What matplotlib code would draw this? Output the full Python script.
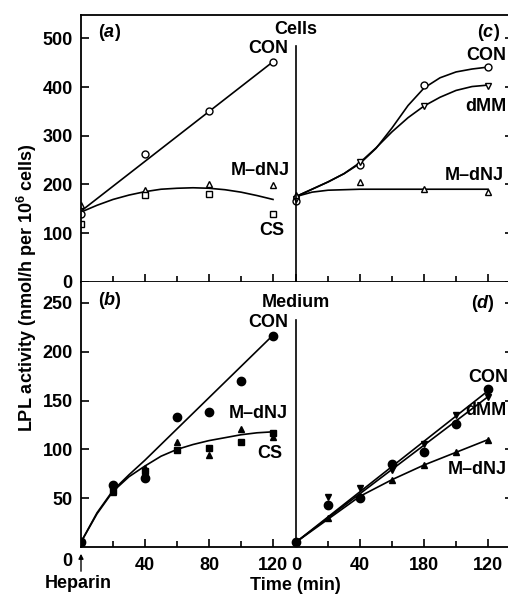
import numpy as np
import matplotlib.pyplot as plt

plt.rcParams['font.family'] = ['Liberation Sans', 'DejaVu Sans']
plt.rcParams['font.weight'] = 'bold'
plt.rcParams['mathtext.fontset'] = 'custom'
plt.rcParams['mathtext.rm'] = 'Liberation Sans:bold'
plt.rcParams['mathtext.it'] = 'Liberation Sans:italic:bold'

# offset of the right-hand panels on the shared time axis
R = 134.4

# ---- cells, panel (a) ----
t_a = [0, 40, 80, 120]
con_a = [140, 262, 350, 452]
mdnj_a = [157, 189, 201, 198]
cs_a = [119, 178, 180, 139]
fit_con_a_t = [0, 120]
fit_con_a = [145, 452]
fit_t10 = [0, 10, 20, 30, 40, 50, 60, 70, 80, 90, 100, 110, 120]
fit_mdnj_a = [143, 157, 169, 178, 185, 190, 192, 193, 192, 189, 184, 177, 169]

# ---- cells, panel (c) ----
t_c = [0, 40, 80, 120]
con_c = [165, 239, 404, 441]
dmm_c = [170, 246, 361, 402]
mdnj_c = [178, 205, 190, 184]
fit_con_c = [175, 190, 205, 222, 243, 274, 316, 362, 398, 419, 431, 437, 441]
fit_dmm_c = [175, 190, 205, 222, 245, 275, 308, 337, 361, 379, 393, 401, 404]
fit_mdnj_c = [175, 184, 188, 189, 190, 190, 190, 190, 190, 190, 190, 190, 190]

# ---- medium, panel (b) ----
t_b = [0, 20, 40, 60, 80, 100, 120]
con_b = [5, 64, 71, 133, 138, 170, 216]
mdnj_b = [5, 56, 81, 108, 94, 121, 113]
cs_b = [5, 57, 78, 99, 101, 108, 117]
fit_con_b_t = [0, 10, 20, 30, 40, 60, 80, 100, 120]
fit_con_b = [5, 35, 58, 74, 89, 121, 153, 185, 217]
fit_mdnj_b = [5, 34, 57, 72, 83, 93, 100, 105, 109, 112, 115, 117, 118]

# ---- medium, panel (d) ----
t_d = [0, 20, 40, 60, 80, 100, 120]
con_d = [5, 43, 50, 85, 97, 126, 162]
dmm_d = [5, 51, 60, 79, 106, 135, 154]
mdnj_d = [5, 30, 52, 69, 84, 97, 110]
fit_lin_t = [0, 120]
fit_con_d = [5, 160]
fit_dmm_d = [5, 154]
fit_mdnj_d_t = [0, 40, 60, 80, 100, 120]
fit_mdnj_d = [5, 52, 69, 84, 97, 110]

xlabels = ['40', '80', '120', '0', '40', '180', '120']

fig = plt.figure(figsize=(5.08, 5.96), dpi=100)
W, H = 508.0, 596.0
ax1 = fig.add_axes([81 / W, 1 - 281.7 / H, 432 / W, 266.7 / H])
ax2 = fig.add_axes([81 / W, 1 - 547 / H, 432 / W, 265.3 / H])

XMAX = 432 / 1.6
ax1.set_xlim(0, XMAX)
ax2.set_xlim(0, XMAX)
ax1.set_ylim(0, 548)
ax2.set_ylim(0, 271.8)

lw = 1.2
ms = 5
tr = lambda v: [x + R for x in v]

# panel (a)
ax1.plot(fit_con_a_t, fit_con_a, 'k-', lw=lw)
ax1.plot(fit_t10, fit_mdnj_a, 'k-', lw=lw)
ax1.plot(t_a, con_a, 'o', mfc='white', mec='k', mew=1.0, ms=ms, ls='none')
ax1.plot(t_a, mdnj_a, '^', mfc='white', mec='k', mew=1.0, ms=ms, ls='none')
ax1.plot(t_a, cs_a, 's', mfc='white', mec='k', mew=1.0, ms=ms - 0.5, ls='none')

# panel (c)
ax1.plot(tr(fit_t10), fit_con_c, 'k-', lw=lw)
ax1.plot(tr(fit_t10), fit_dmm_c, 'k-', lw=lw)
ax1.plot(tr(fit_t10), fit_mdnj_c, 'k-', lw=lw)
ax1.plot(tr(t_c), con_c, 'o', mfc='white', mec='k', mew=1.0, ms=ms, ls='none')
ax1.plot(tr(t_c), dmm_c, 'v', mfc='white', mec='k', mew=1.0, ms=ms, ls='none')
ax1.plot(tr(t_c), mdnj_c, '^', mfc='white', mec='k', mew=1.0, ms=ms, ls='none')

# panel (b)
ax2.plot(fit_con_b_t, fit_con_b, 'k-', lw=lw)
ax2.plot(fit_t10, fit_mdnj_b, 'k-', lw=lw)
ax2.plot(t_b, con_b, 'o', color='k', ms=ms + 1, ls='none')
ax2.plot(t_b, mdnj_b, '^', color='k', ms=ms, ls='none')
ax2.plot(t_b, cs_b, 's', color='k', ms=ms - 0.5, ls='none')

# panel (d)
ax2.plot(tr(fit_lin_t), fit_con_d, 'k-', lw=lw)
ax2.plot(tr(fit_lin_t), fit_dmm_d, 'k-', lw=lw)
ax2.plot(tr(fit_mdnj_d_t), fit_mdnj_d, 'k-', lw=lw)
ax2.plot(tr(t_d), con_d, 'o', color='k', ms=ms + 1, ls='none')
ax2.plot(tr(t_d), dmm_d, 'v', color='k', ms=ms, ls='none')
ax2.plot(tr(t_d), mdnj_d, '^', color='k', ms=ms, ls='none')

# dividers between left and right panels
ax1.plot([R, R], [0, 484], 'k-', lw=1.2)
ax2.plot([R, R], [0, 232.6], 'k-', lw=1.2)

fs = 13
for ax in (ax1, ax2):
    for s in ax.spines.values():
        s.set_linewidth(1.3)
    ax.set_xticks([40, 80, 120, R, R + 40, R + 80, R + 120])
    ax.set_xticks([20, 60, 100, R + 20, R + 60, R + 100], minor=True)
    ax.tick_params(axis='x', which='major', direction='in', length=6, width=1.2, pad=7, labelsize=fs)
    ax.tick_params(axis='x', which='minor', direction='in', length=4, width=1.2)
    ax.tick_params(axis='y', direction='in', length=6, width=1.2, pad=6, labelsize=fs,
                   right=True)
ax2.spines['top'].set_visible(False)
ax1.set_xticklabels([])
ax2.set_xticklabels(xlabels)
ax1.set_yticks([0, 100, 200, 300, 400, 500])
ax2.set_yticks([50, 100, 150, 200, 250])

# labels
ax1.text(18, 513, '($a$)', fontsize=fs, ha='center', va='center')
ax1.text(117, 480, 'CON', fontsize=fs, ha='center', va='center')
ax1.text(112, 229, 'M\u2013dNJ', fontsize=fs, ha='center', va='center')
ax1.text(119, 106, 'CS', fontsize=fs, ha='center', va='center')
ax1.text(R, 519, 'Cells', fontsize=fs, ha='center', va='center')
ax1.text(255, 513, '($c$)', fontsize=fs, ha='center', va='center')
ax1.text(241, 465, 'CON', fontsize=fs, ha='left', va='center')
ax1.text(240, 359, 'dMM', fontsize=fs, ha='left', va='center')
ax1.text(227.5, 219, 'M\u2013dNJ', fontsize=fs, ha='left', va='center')

ax2.text(R, 251, 'Medium', fontsize=fs, ha='center', va='center')
ax2.text(18, 253, '($b$)', fontsize=fs, ha='center', va='center')
ax2.text(117, 229.5, 'CON', fontsize=fs, ha='center', va='center')
ax2.text(111, 137, 'M\u2013dNJ', fontsize=fs, ha='center', va='center')
ax2.text(118, 96, 'CS', fontsize=fs, ha='center', va='center')
ax2.text(251, 249, '($d$)', fontsize=fs, ha='center', va='center')
ax2.text(242, 174, 'CON', fontsize=fs, ha='left', va='center')
ax2.text(240, 140, 'dMM', fontsize=fs, ha='left', va='center')
ax2.text(229, 79, 'M\u2013dNJ', fontsize=fs, ha='left', va='center')

# heparin arrow and bottom texts
fig.text(67 / W, 1 - 562 / H, '0', fontsize=fs, ha='center', va='center')
fig.text(78 / W, 1 - 583 / H, 'Heparin', fontsize=fs, ha='center', va='center')
fig.text(295 / W, 1 - 585 / H, 'Time (min)', fontsize=fs, ha='center', va='center')
ax2.annotate('', xy=(81 / W, 1 - 551 / H), xytext=(81 / W, 1 - 574 / H),
             xycoords='figure fraction', textcoords='figure fraction',
             arrowprops=dict(arrowstyle='-|>', color='k', lw=1.0, mutation_scale=7))

fig.text(27 / W, 1 - 288 / H, 'LPL activity (nmol/h per 10$^{6}$ cells)', fontsize=fs,
         rotation=90, ha='center', va='center')

fig.savefig('out.png', dpi=100)
